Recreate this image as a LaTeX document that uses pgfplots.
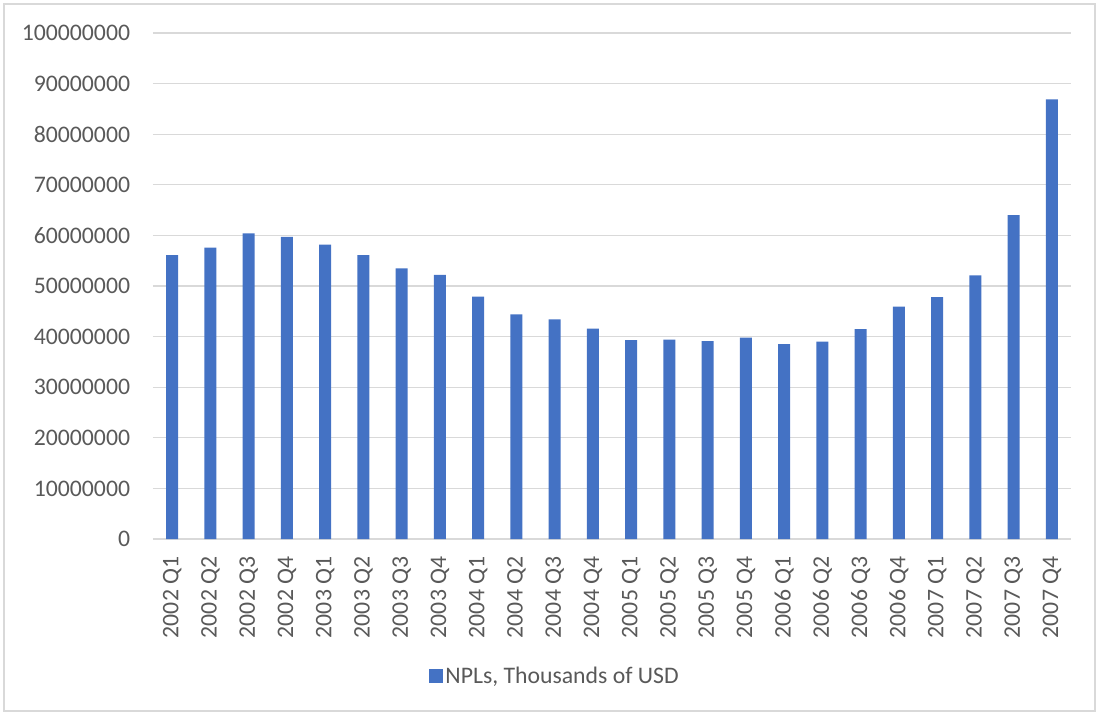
\documentclass[border=0pt]{standalone}
\usepackage{fontspec}
\setmainfont{Carlito}
\usepackage{pgfplots}
\pgfplotsset{compat=1.18}

\definecolor{barblue}{HTML}{4472C4}
\definecolor{gridgray}{HTML}{D9D9D9}
\definecolor{textgray}{HTML}{595959}

\begin{document}
\begin{tikzpicture}[x=1pt,y=1pt]
% chart frame (1 px = 0.75pt, axis box at 153..1071 x 33..539 px)
\path (-114.75,-132) rectangle (709.5,404.25);
\draw[gridgray, line width=0.8pt] (-111.75,-129) rectangle (706.5,401.25);
\begin{axis}[
    scale only axis,
    width=688.5pt, height=379.5pt,
    font=\fontsize{17.8}{21}\selectfont,
    ybar, bar width=9pt,
    xmin=-0.5, xmax=23.5,
    ymin=0, ymax=100000000,
    ytick={0,10000000,...,100000000},
    scaled y ticks=false,
    /pgf/number format/.cd, fixed, 1000 sep={}, assume math mode=true,
    /pgfplots/.cd,
    xtick=data,
    xticklabels={2002 Q1,2002 Q2,2002 Q3,2002 Q4,2003 Q1,2003 Q2,2003 Q3,2003 Q4,
        2004 Q1,2004 Q2,2004 Q3,2004 Q4,2005 Q1,2005 Q2,2005 Q3,2005 Q4,
        2006 Q1,2006 Q2,2006 Q3,2006 Q4,2007 Q1,2007 Q2,2007 Q3,2007 Q4},
    x tick label style={rotate=90, anchor=east, inner sep=0pt},
    y tick label style={inner sep=0pt},
    xticklabel shift=13pt,
    yticklabel shift=17pt,
    tick label style={text=textgray},
    major tick length=0pt,
    axis line style={draw=none},
    ymajorgrids=true,
    grid style={gridgray, line width=0.8pt},
    legend style={draw=none, at={(0.438,-0.271)}, anchor=center,
        text=textgray, font=\fontsize{17.8}{21}\selectfont},
    legend image code/.code={\fill[barblue] (0pt,-5.3pt) rectangle (10.5pt,5.3pt);},
]
\addplot[fill=barblue, draw=none] coordinates {
    (0,56100000) (1,57600000) (2,60400000) (3,59700000)
    (4,58200000) (5,56100000) (6,53500000) (7,52200000)
    (8,47900000) (9,44400000) (10,43400000) (11,41600000)
    (12,39300000) (13,39400000) (14,39100000) (15,39800000)
    (16,38500000) (17,39000000) (18,41500000) (19,45900000)
    (20,47800000) (21,52100000) (22,64000000) (23,86900000)
};
\addlegendentry{NPLs, Thousands of USD}
\end{axis}
\end{tikzpicture}
\end{document}
